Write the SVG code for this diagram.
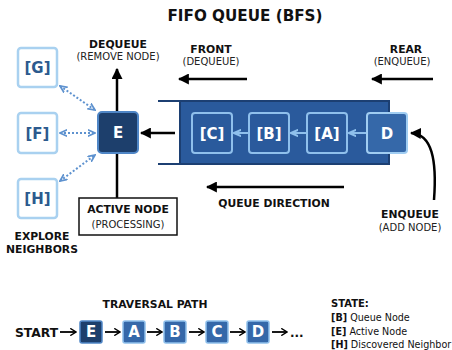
<svg xmlns="http://www.w3.org/2000/svg" width="452" height="350" viewBox="0 0 452 350">
<defs>
<style>
text{font-family:"DejaVu Sans","Liberation Sans",sans-serif;}
.b{font-weight:700;}
.t{fill:#111;}
.lbl{font-size:10.8px;text-anchor:middle;fill:#111;}
.sub{font-size:10px;text-anchor:middle;fill:#222;}
.nb{fill:#fff;stroke:#a9d1f0;stroke-width:2.5;}
.nbt{font-size:15px;font-weight:700;fill:#2c5a8e;text-anchor:middle;}
.qn{fill:#2a5a9c;stroke:#8fc0ec;stroke-width:2;}
.qt{font-size:15px;font-weight:700;fill:#fff;text-anchor:middle;}
.blk{stroke:#000;stroke-width:2.5;fill:none;}
.dot{stroke:#5e92cf;stroke-width:2;stroke-dasharray:2 2;fill:none;}
.pth{stroke:#000;stroke-width:1.8;fill:none;}
.small{stroke:#8fc0ec;stroke-width:2;fill:none;}
</style>
<marker id="ah" viewBox="0 0 10 10" refX="9" refY="5" markerWidth="4.4" markerHeight="4.4" orient="auto-start-reverse"><path d="M0,0 L10,5 L0,10 z" fill="#000"/></marker>
<marker id="ad" viewBox="0 0 10 10" refX="9" refY="5" markerWidth="4" markerHeight="4" orient="auto-start-reverse"><path d="M0,1 L9,5 L0,9" fill="none" stroke="#5e92cf" stroke-width="2.2"/></marker>
<marker id="as" viewBox="0 0 10 10" refX="9" refY="5" markerWidth="4" markerHeight="4" orient="auto-start-reverse"><path d="M0,1 L9,5 L0,9" fill="none" stroke="#8fc0ec" stroke-width="2.5"/></marker>
<marker id="ap" viewBox="0 0 10 10" refX="9" refY="5" markerWidth="4" markerHeight="4" orient="auto"><path d="M1,0 L9,5 L1,10" fill="none" stroke="#000" stroke-width="2"/></marker>
</defs>
<rect width="452" height="350" fill="#fff"/>

<text x="245" y="21" class="b t" font-size="15.2" text-anchor="middle">FIFO QUEUE (BFS)</text>

<g id="labels">
<text x="118" y="47.5" class="lbl b">DEQUEUE</text>
<text x="118" y="60" class="sub">(REMOVE NODE)</text>
<text x="211" y="52.5" class="lbl b">FRONT</text>
<text x="211" y="65" class="sub">(DEQUEUE)</text>
<text x="406" y="52.5" class="lbl b">REAR</text>
<text x="402" y="65" class="sub">(ENQUEUE)</text>
<text x="42" y="240" class="lbl b" font-size="9.9">EXPLORE</text>
<text x="42" y="253" class="lbl b" font-size="9.9">NEIGHBORS</text>
<text x="274" y="207" class="lbl b" font-size="9.9">QUEUE DIRECTION</text>
<text x="410" y="218" class="lbl b">ENQUEUE</text>
<text x="410" y="231" class="sub">(ADD NODE)</text>
</g>

<g id="queue">
<line x1="158" y1="101" x2="389" y2="101" stroke="#1c3f72" stroke-width="2"/>
<line x1="158" y1="164" x2="389" y2="164" stroke="#1c3f72" stroke-width="2"/>
<rect x="180" y="101" width="209" height="63" fill="#2a5a9c" stroke="#1c3f72" stroke-width="2"/>
</g>

<g id="connectors">
<line x1="117" y1="198" x2="117" y2="69" class="blk" marker-end="url(#ah)"/>
<line x1="175" y1="133" x2="141" y2="133" class="blk" marker-end="url(#ah)"/>
<line x1="247" y1="79" x2="179" y2="79" class="blk" marker-end="url(#ah)"/>
<line x1="433" y1="79" x2="372" y2="79" class="blk" marker-end="url(#ah)"/>
<line x1="344" y1="187" x2="207" y2="187" class="blk" marker-end="url(#ah)"/>
<path d="M434,200 C437,160 432,134 411,133" class="blk" marker-end="url(#ah)"/>
<line x1="60" y1="86" x2="95" y2="110" class="dot" marker-start="url(#ad)" marker-end="url(#ad)"/>
<line x1="60" y1="133" x2="95" y2="133" class="dot" marker-start="url(#ad)" marker-end="url(#ad)"/>
<line x1="60" y1="181" x2="95" y2="155" class="dot" marker-start="url(#ad)" marker-end="url(#ad)"/>
<line x1="249" y1="133" x2="234" y2="133" class="small" marker-end="url(#as)"/>
<line x1="307" y1="133" x2="291" y2="133" class="small" marker-end="url(#as)"/>
<line x1="367" y1="133" x2="349" y2="133" class="small" marker-end="url(#as)"/>
</g>

<g id="node-G"><rect x="18" y="48" width="39" height="39" rx="3" class="nb"/><text x="37.5" y="73" class="nbt">[G]</text></g>
<g id="node-F"><rect x="18" y="113" width="39" height="40" rx="3" class="nb"/><text x="37.5" y="138.5" class="nbt">[F]</text></g>
<g id="node-H"><rect x="18" y="179" width="39" height="39" rx="3" class="nb"/><text x="37.5" y="204" class="nbt">[H]</text></g>

<g id="node-E"><rect x="98" y="112" width="40" height="41" rx="4" fill="#1d3f6c" stroke="#4f86c6" stroke-width="2"/><text x="118" y="138" class="qt">E</text></g>

<g id="active-node"><rect x="79" y="198" width="98" height="37" fill="#fff" stroke="#111" stroke-width="1.5"/>
<text x="128" y="213" class="lbl b" font-size="10.4">ACTIVE NODE</text><text x="128" y="228" class="sub" font-size="10.6">(PROCESSING)</text></g>

<g id="node-C"><rect x="192" y="113" width="40" height="40" rx="3" class="qn"/><text x="212" y="138.5" class="qt">[C]</text></g>
<g id="node-B"><rect x="249" y="113" width="40" height="40" rx="3" class="qn"/><text x="269" y="138.5" class="qt">[B]</text></g>
<g id="node-A"><rect x="307" y="113" width="40" height="40" rx="3" class="qn"/><text x="327" y="138.5" class="qt">[A]</text></g>
<g id="node-D"><rect x="367" y="113" width="40" height="40" rx="3" fill="#3568a9" stroke="#a0cdf2" stroke-width="2"/><text x="387" y="138.5" class="qt">D</text></g>

<g id="traversal">
<text x="155" y="308" class="lbl b" font-size="11.3">TRAVERSAL PATH</text>
<text x="15" y="337" class="b t" font-size="12.3">START</text>
<g id="path-connectors">
<line x1="60" y1="332" x2="76" y2="332" class="pth" marker-end="url(#ap)"/>
<line x1="105" y1="332" x2="120" y2="332" class="pth" marker-end="url(#ap)"/>
<line x1="147" y1="332" x2="162" y2="332" class="pth" marker-end="url(#ap)"/>
<line x1="189" y1="332" x2="204" y2="332" class="pth" marker-end="url(#ap)"/>
<line x1="230" y1="332" x2="245" y2="332" class="pth" marker-end="url(#ap)"/>
<line x1="272" y1="332" x2="287" y2="332" class="pth" marker-end="url(#ap)"/>
</g>
<g id="t-E"><rect x="80" y="321" width="22" height="22" rx="2" fill="#1d3f6c" stroke="#4f86c6" stroke-width="1.5"/><text x="91" y="336.5" class="qt" font-size="12">E</text></g>
<g id="t-A"><rect x="123" y="321" width="22" height="22" rx="2" fill="#3568a9" stroke="#8fc0ec" stroke-width="1.5"/><text x="134" y="336.5" class="qt" font-size="12">A</text></g>
<g id="t-B"><rect x="164" y="321" width="22" height="22" rx="2" fill="#3568a9" stroke="#8fc0ec" stroke-width="1.5"/><text x="175" y="336.5" class="qt" font-size="12">B</text></g>
<g id="t-C"><rect x="206" y="321" width="22" height="22" rx="2" fill="#3568a9" stroke="#8fc0ec" stroke-width="1.5"/><text x="217" y="336.5" class="qt" font-size="12">C</text></g>
<g id="t-D"><rect x="247" y="321" width="22" height="22" rx="2" fill="#3568a9" stroke="#8fc0ec" stroke-width="1.5"/><text x="258" y="336.5" class="qt" font-size="12">D</text></g>
<text x="290" y="337" class="b t" font-size="12">...</text>
</g>

<g id="legend" fill="#111">
<text x="331" y="307" class="b t" font-size="10">STATE:</text>
<text x="331" y="321" class="t" font-size="9.6"><tspan class="b">[B]</tspan> Queue Node</text>
<text x="331" y="334.5" class="t" font-size="9.6"><tspan class="b">[E]</tspan> Active Node</text>
<text x="331" y="348" class="t" font-size="9.6"><tspan class="b">[H]</tspan> Discovered Neighbor</text>
</g>
</svg>
